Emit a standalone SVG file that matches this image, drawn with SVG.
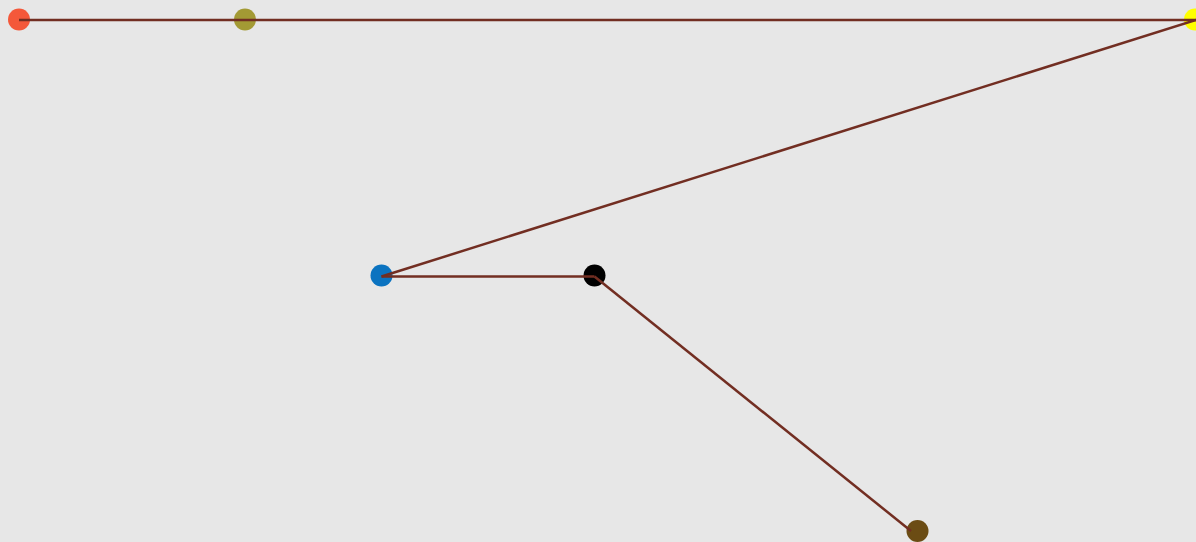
<svg xmlns="http://www.w3.org/2000/svg" width="1196" height="542" viewBox="0 0 1196 542">
<style>
.e{stroke:#722e22;stroke-width:2.5;fill:none}
</style>
<rect width="1196" height="542" fill="#e7e7e7"/>
<g id="n1"><circle cx="19" cy="19.5" r="11" fill="#f4583a"/></g>
<g id="n2"><circle cx="245" cy="19.5" r="11" fill="#a39a34"/></g>
<g id="n3"><circle cx="1195" cy="19.5" r="11" fill="#ffff00"/></g>
<g id="n4"><circle cx="381.5" cy="275.5" r="11" fill="#0b73c0"/></g>
<g id="n5"><circle cx="594.5" cy="275.5" r="11" fill="#000000"/></g>
<g id="n6"><circle cx="917.5" cy="531" r="11" fill="#6b4c14"/></g>
<g id="edges">
<line class="e" x1="19" y1="20" x2="1196" y2="20"/>
<line class="e" x1="1196" y1="20" x2="381.5" y2="276.5"/>
<line class="e" x1="381.5" y1="276.5" x2="594.5" y2="276.5"/>
<line class="e" x1="594.5" y1="276.5" x2="911" y2="531"/>
</g>
</svg>
